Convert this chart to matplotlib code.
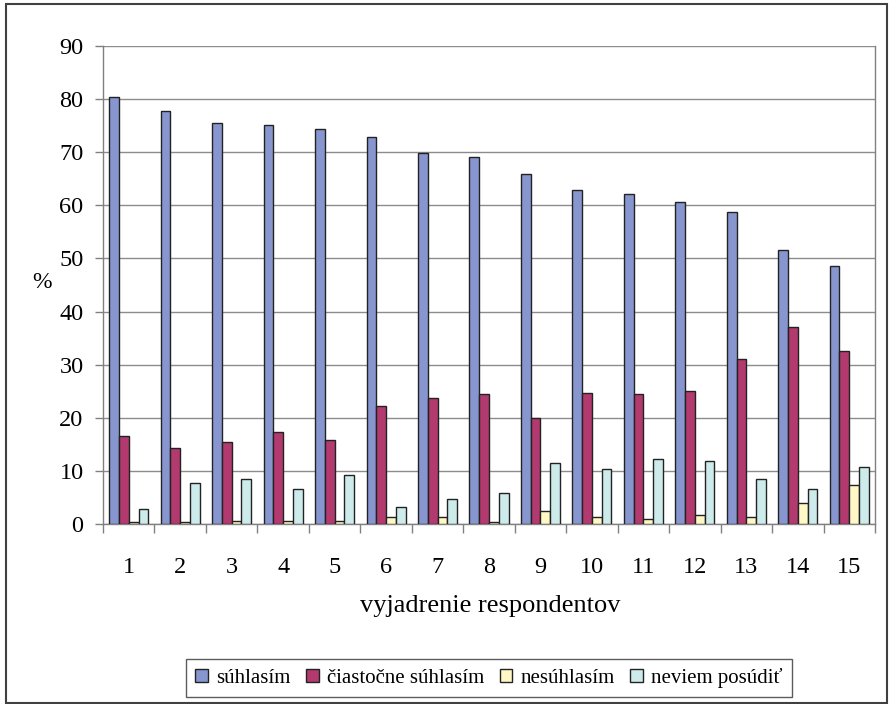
import matplotlib

matplotlib.use("Agg")

import matplotlib.pyplot as plt
import numpy as np
from matplotlib.patches import Rectangle
from matplotlib.ticker import MultipleLocator, FixedLocator

categories = [str(i) for i in range(1, 16)]
suhlasim = [80.4, 77.8, 75.5, 75.1, 74.4, 72.9, 69.8, 69.1, 65.9, 62.9, 62.1, 60.6, 58.8, 51.6, 48.6]
ciastocne = [16.6, 14.3, 15.5, 17.3, 15.8, 22.2, 23.8, 24.5, 20.0, 24.7, 24.4, 25.1, 31.1, 37.1, 32.6]
nesuhlasim = [0.3, 0.3, 0.6, 0.6, 0.6, 1.3, 1.3, 0.3, 2.5, 1.3, 0.9, 1.7, 1.3, 3.9, 7.3]
neviem = [2.8, 7.8, 8.5, 6.6, 9.2, 3.2, 4.7, 5.8, 11.5, 10.4, 12.2, 11.9, 8.5, 6.6, 10.7]

series = [
    ("súhlasím", suhlasim, "#8796CF"),
    ("čiastočne súhlasím", ciastocne, "#B23A6E"),
    ("nesúhlasím", nesuhlasim, "#FFF8C6"),
    ("neviem posúdiť", neviem, "#CDEBEB"),
]

plt.rcParams["font.family"] = ["Liberation Serif", "DejaVu Serif"]

W, H = 889, 704
fig = plt.figure(figsize=(W / 100, H / 100), dpi=100)
# outer frame around the whole chart area
fig.patches.append(Rectangle((6 / W, 1 / H), 881 / W, 699 / H, transform=fig.transFigure,
                             fill=False, edgecolor="#404040", linewidth=1.5))

ax = fig.add_axes([103 / W, 1 - 524 / H, 772 / W, 478 / H])

x = np.arange(len(categories))
width = 0.19
for i, (name, vals, color) in enumerate(series):
    ax.bar(x + (i - 1.5) * width, vals, width, color=color, edgecolor="#222222",
           linewidth=1.0, label=name, zorder=3)

ax.set_xlim(-0.5, len(categories) - 0.5)
ax.set_ylim(0, 90)
ax.yaxis.set_major_locator(MultipleLocator(10))
ax.grid(axis="y", color="#8c8c8c", linewidth=1.0, zorder=0)

ax.set_xticks(x)
ax.set_xticklabels(categories)
ax.xaxis.set_minor_locator(FixedLocator(np.arange(-0.5, len(categories), 1.0)))
ax.tick_params(axis="x", which="major", length=0, pad=23.5, labelsize=17.5)
ax.tick_params(axis="x", which="minor", length=6.5, width=1, color="#808080", direction="out")
ax.tick_params(axis="y", length=6, width=1, color="#808080", pad=8, labelsize=17.5)

for side in ["left", "bottom", "right", "top"]:
    ax.spines[side].set_color("#808080")
    ax.spines[side].set_linewidth(1.0)
ax.spines["top"].set_visible(False)

fig.text(42 / W, 1 - 282 / H, "%", ha="center", va="center", fontsize=17)
fig.text(490 / W, 1 - 606 / H, "vyjadrenie respondentov", ha="center", va="center", fontsize=19)

leg = fig.legend(loc="center", bbox_to_anchor=(489 / W, 1 - 678 / H), ncol=4,
                 fontsize=15, frameon=True, fancybox=False, edgecolor="#333333",
                 handlelength=0.6, handleheight=0.6, handletextpad=0.4, columnspacing=0.75,
                 borderpad=0.45)
leg.get_frame().set_linewidth(1.0)

fig.savefig("out.png", dpi=100)
